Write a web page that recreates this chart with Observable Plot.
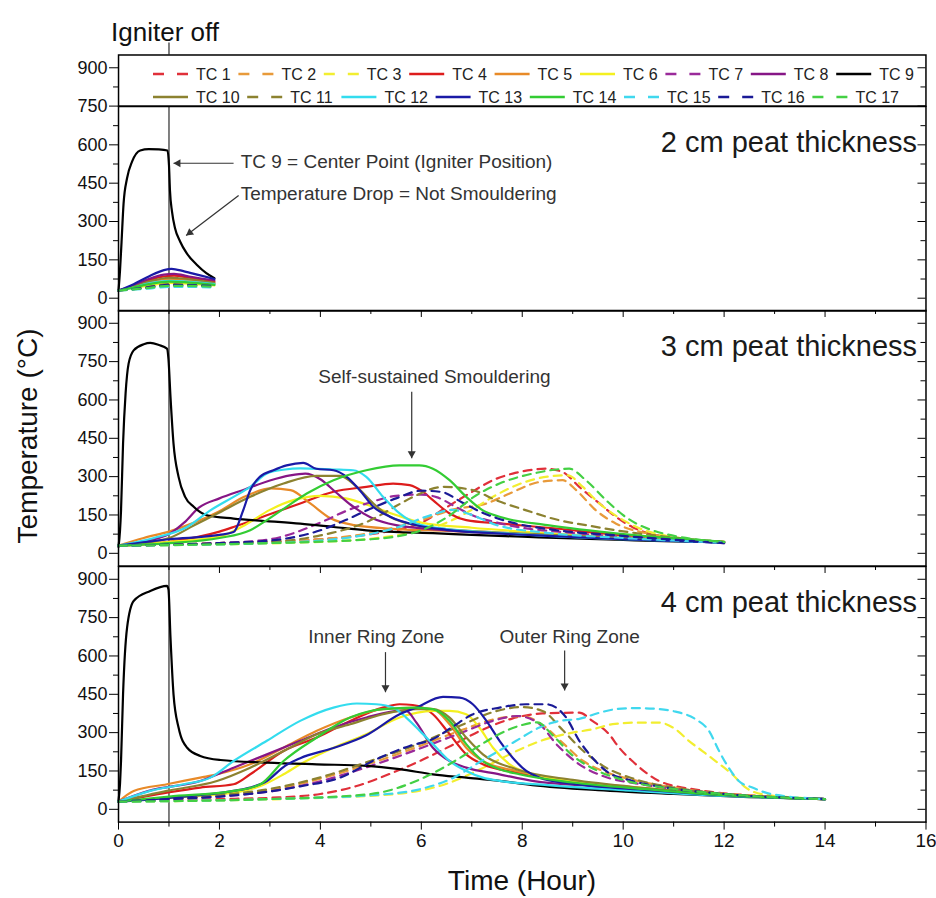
<!DOCTYPE html>
<html><head><meta charset="utf-8">
<script src="https://cdn.jsdelivr.net/npm/d3@7"></script>
<script src="https://cdn.jsdelivr.net/npm/@observablehq/plot@0.6"></script>
<style>
body{margin:0;background:#fff;}
#chart{position:relative;width:936px;height:898px;font-family:"Liberation Sans",Arial,sans-serif;}
#chart svg{position:absolute;left:0;overflow:visible;}
</style></head><body><div id="chart"></div>
<script>
// ---------- data: [hour, °C] ----------
// 2 cm peat thickness
const tc1_2cm=[[0,30],[0.5,40],[1.0,52],[1.4,52],[1.9,46]];
const tc2_2cm=[[0,30],[0.5,42],[1.0,56],[1.4,55],[1.9,48]];
const tc3_2cm=[[0,30],[0.5,38],[1.0,48],[1.4,48],[1.9,44]];
const tc4_2cm=[[0,30],[0.3,48],[0.6,70],[0.9,85],[1.1,88],[1.4,80],[1.9,65]];
const tc5_2cm=[[0,30],[0.3,45],[0.6,62],[1.0,75],[1.3,72],[1.9,58]];
const tc6_2cm=[[0,30],[0.3,40],[0.6,50],[1.0,60],[1.3,58],[1.9,50]];
const tc7_2cm=[[0,30],[0.5,40],[1.0,50],[1.4,50],[1.9,45]];
const tc8_2cm=[[0,30],[0.3,50],[0.6,75],[0.9,92],[1.1,95],[1.4,85],[1.9,70]];
const tc9_2cm=[[0,30],[0.03,110],[0.06,220],[0.1,370],[0.17,470],[0.27,535],[0.43,578],[0.6,583],[0.8,582],[0.97,578],[1.0,520],[1.02,420],[1.06,339],[1.12,274],[1.22,222],[1.35,176],[1.55,131],[1.74,98],[1.9,78]];
const tc10_2cm=[[0,30],[0.3,45],[0.6,65],[1.0,80],[1.2,78],[1.9,60]];
const tc11_2cm=[[0,30],[0.5,42],[1.0,55],[1.4,53],[1.9,48]];
const tc12_2cm=[[0,30],[0.3,42],[0.6,58],[1.0,68],[1.3,66],[1.9,55]];
const tc13_2cm=[[0,30],[0.3,55],[0.6,85],[0.9,110],[1.05,115],[1.3,105],[1.6,90],[1.9,75]];
const tc14_2cm=[[0,30],[0.3,42],[0.6,55],[1.0,65],[1.3,63],[1.9,52]];
const tc15_2cm=[[0,30],[0.5,36],[1.0,44],[1.4,44],[1.9,42]];
const tc16_2cm=[[0,30],[0.5,40],[1.0,52],[1.4,51],[1.9,47]];
const tc17_2cm=[[0,30],[0.5,38],[1.0,48],[1.4,48],[1.9,44]];
// 3 cm peat thickness
const tc1_3cm=[[0,30],[2,40],[4,55],[5,75],[6,120],[6.5,180],[7,240],[7.42,286],[7.81,312],[8.21,327],[8.47,331],[8.8,318],[9.13,260],[9.53,195],[9.86,142],[10.18,103],[10.84,64],[12,44]];
const tc2_3cm=[[0,30],[2,40],[4,55],[5,80],[6,130],[6.6,170],[7.29,195],[7.75,234],[8.34,279],[8.8,286],[9.07,247],[9.46,168],[9.86,116],[10.51,77],[12,45]];
const tc3_3cm=[[0,30],[4,45],[5.5,70],[6.5,120],[7,170],[7.5,230],[8,275],[8.5,300],[8.9,305],[9.2,260],[9.5,200],[10,130],[10.5,85],[12,42]];
const tc4_3cm=[[0,30],[1,45],[2,85],[2.28,103],[2.94,149],[3.6,195],[4.26,241],[4.91,260],[5.44,273],[5.77,267],[6.03,241],[6.23,208],[6.56,156],[6.89,130],[7.55,117],[8.5,100],[10,70],[12,44]];
const tc5_3cm=[[0,30],[0.5,60],[1,85],[1.5,120],[2,165],[2.49,221],[3.02,254],[3.41,247],[3.8,195],[4.2,137],[4.67,110],[5.5,95],[6.5,88],[8,75],[10,58],[12,45]];
const tc6_3cm=[[0,30],[1,45],[2,65],[2.5,110],[3,170],[3.5,210],[4,225],[4.5,215],[5,185],[5.5,150],[6,120],[7,100],[8,85],[10,62],[12,42]];
const tc7_3cm=[[0,30],[2,40],[3,55],[4,120],[4.5,165],[5,200],[5.5,225],[6,230],[6.3,220],[6.7,180],[7,150],[7.5,120],[8,100],[9,80],[12,40]];
const tc8_3cm=[[0,30],[0.6,50],[1,75],[1.3,120],[1.6,180],[2,215],[2.5,250],[3,285],[3.4,305],[3.7,312],[4,290],[4.3,240],[4.6,190],[5,140],[5.5,110],[6.5,90],[8,75],[10,58],[12,42]];
const tc9_3cm=[[0,25],[0.03,90],[0.05,168],[0.09,429],[0.14,625],[0.2,742],[0.3,794],[0.5,818],[0.63,823],[0.8,815],[0.96,801],[0.99,760],[1.03,612],[1.09,429],[1.19,299],[1.32,221],[1.49,182],[1.75,149],[2.28,136],[2.94,126],[3.6,116],[4.26,103],[4.91,90],[5.57,83],[6.23,79],[7,72],[8,65],[9,58],[10,52],[11,47],[12,44]];
const tc10_3cm=[[0,30],[1,60],[1.5,110],[1.95,155],[2.61,221],[3.27,273],[3.92,303],[4.39,303],[4.72,260],[5.05,195],[5.38,143],[5.9,110],[6.5,95],[7.5,82],[9,68],[10.5,55],[12,44]];
const tc11_3cm=[[0,30],[3,45],[4,70],[5,130],[5.5,185],[5.83,220],[6.43,260],[7.02,247],[7.48,208],[8.08,168],[8.74,129],[9.27,110],[9.86,90],[11,62],[12,44]];
const tc12_3cm=[[0,30],[0.7,60],[1.36,103],[1.82,168],[2.28,221],[2.61,260],[2.94,312],[3.3,328],[3.6,332],[4.26,328],[4.65,325],[4.91,299],[5.24,221],[5.57,156],[5.9,117],[6.5,95],[7.5,80],[8.5,68],[10,55],[12,42]];
const tc13_3cm=[[0,30],[1,55],[2,72],[2.28,83],[2.47,168],[2.61,247],[2.8,299],[3.07,325],[3.33,344],[3.66,354],[3.92,331],[4.26,325],[4.52,299],[4.78,247],[5.05,182],[5.38,143],[5.9,110],[6.5,92],[7.5,78],[8.5,68],[10,55],[12,42]];
const tc14_3cm=[[0,30],[1,40],[2,60],[2.61,90],[2.94,130],[3.33,182],[3.73,234],[4.26,286],[4.91,325],[5.57,344],[5.96,344],[6.23,331],[6.56,286],[6.89,221],[7.22,168],[7.55,143],[8.5,110],[10,75],[12,45]];
const tc15_3cm=[[0,30],[3,40],[4.5,60],[5.5,100],[6.2,150],[6.6,170],[7,150],[7.5,110],[8.5,80],[10,60],[12,42]];
const tc16_3cm=[[0,30],[2,40],[3,50],[4,90],[4.5,130],[5,175],[5.5,215],[6,245],[6.4,240],[6.8,200],[7.2,160],[7.8,120],[8.5,95],[10,68],[12,40]];
const tc17_3cm=[[0,30],[3,40],[5,55],[6,90],[6.5,140],[7.09,227],[7.55,273],[8.21,312],[8.93,331],[9.26,286],[9.66,208],[10.05,142],[10.58,90],[12,44]];
// 4 cm peat thickness
const tc1_4cm=[[0,30],[2,40],[3,45],[4,60],[4.7,90],[5.44,144],[5.97,189],[6.6,250],[7.2,310],[7.8,355],[8.4,375],[9.13,378],[9.39,346],[9.72,294],[9.92,241],[10.18,189],[10.45,144],[10.71,111],[11.5,75],[12.5,55],[14,40]];
const tc2_4cm=[[0,30],[1,40],[2,55],[3,75],[4,120],[5,180],[6,250],[6.8,310],[7.5,355],[8,365],[8.4,330],[8.8,260],[9.2,190],[9.6,150],[10.2,115],[11,85],[12,60],[14,40]];
const tc3_4cm=[[0,30],[4,45],[5.5,60],[6.5,100],[7.2,160],[7.8,220],[8.4,270],[9,300],[9.39,313],[9.79,333],[10.25,339],[10.71,339],[11.04,313],[11.3,268],[11.57,228],[11.83,189],[12.16,137],[12.43,85],[12.76,59],[14,40]];
const tc4_4cm=[[0,30],[0.96,65],[1.62,85],[2.28,98],[2.61,137],[3.27,228],[3.93,281],[4.59,346],[5.24,398],[5.57,411],[5.83,408],[6.23,372],[6.56,294],[6.89,215],[7.22,176],[7.88,144],[9,110],[10.5,80],[12,55],[14,40]];
const tc5_4cm=[[0,30],[0.3,72],[0.96,98],[1.62,124],[1.95,137],[2.61,176],[3.27,241],[3.93,307],[4.59,359],[5.24,392],[5.9,398],[6.23,392],[6.56,333],[6.89,241],[7.22,189],[7.88,150],[9,110],[10.5,80],[12,55],[14,40]];
const tc6_4cm=[[0,30],[1,45],[2.28,65],[2.8,90],[3.27,137],[3.6,176],[4.26,241],[4.91,294],[5.57,359],[6.23,385],[6.56,385],[6.89,372],[7.15,320],[7.42,241],[7.75,176],[8.2,137],[8.87,111],[10,90],[12,60],[14,40]];
const tc7_4cm=[[0,30],[1,40],[2,50],[3,70],[4,110],[5,170],[6,240],[6.8,300],[7.4,345],[7.9,365],[8.3,340],[8.7,250],[9.1,180],[9.6,130],[10.3,100],[11,80],[12,60],[14,40]];
const tc8_4cm=[[0,30],[0.6,72],[1.62,111],[2.28,163],[2.94,215],[3.6,268],[4.26,320],[4.91,359],[5.57,385],[5.7,385],[5.9,340],[6.23,241],[6.56,189],[6.89,163],[7.55,137],[8.2,111],[9.5,90],[11,70],[12.5,52],[14,40]];
const tc9_4cm=[[0,33],[0.03,100],[0.05,189],[0.09,450],[0.17,711],[0.3,815],[0.63,854],[0.96,874],[0.99,860],[1.03,672],[1.09,450],[1.19,320],[1.36,241],[1.62,209],[2.02,193],[2.94,183],[3.93,176],[4.91,170],[5.57,157],[6.23,137],[6.89,124],[7.55,111],[8.2,95],[9.5,75],[11,60],[12.5,48],[14,40]];
const tc10_4cm=[[0,30],[0.96,72],[1.95,111],[2.61,163],[3.27,228],[3.93,294],[4.59,333],[5.24,372],[5.9,392],[6.23,392],[6.56,359],[6.89,281],[7.22,215],[7.88,157],[9,115],[10.5,82],[12,57],[14,40]];
const tc11_4cm=[[0,30],[1,40],[2,55],[3,80],[4,125],[5,190],[6,260],[6.8,330],[7.5,385],[8,400],[8.4,385],[8.8,310],[9.2,230],[9.6,170],[10.2,120],[11,85],[12,60],[14,40]];
const tc12_4cm=[[0,30],[0.63,72],[1.29,98],[1.82,124],[2.28,189],[2.94,268],[3.6,346],[4.26,398],[4.72,414],[5.11,411],[5.44,398],[5.7,359],[5.97,307],[6.23,255],[6.56,189],[6.89,150],[7.22,124],[7.55,111],[8.5,95],[10,75],[12,52],[14,40]];
const tc13_4cm=[[0,30],[1,45],[2.28,72],[2.61,85],[2.94,111],[3.3,170],[3.6,200],[4.26,240],[4.91,290],[5.57,372],[5.9,398],[6.43,440],[6.76,437],[7.02,411],[7.29,346],[7.55,268],[7.81,202],[8.08,150],[8.34,124],[9,100],[10.5,75],[12,55],[14,40]];
const tc14_4cm=[[0,30],[1,50],[2.28,72],[2.81,98],[3.27,189],[3.93,281],[4.59,359],[5.24,392],[5.9,398],[6.23,392],[6.56,346],[6.89,255],[7.22,189],[7.55,157],[7.94,137],[9,105],[10.5,78],[12,55],[14,40]];
const tc15_4cm=[[0,30],[3,40],[5,55],[6,80],[6.6,120],[7.2,190],[7.88,268],[8.34,320],[8.74,346],[9.13,354],[9.53,378],[9.86,392],[10.25,396],[10.71,392],[11.04,382],[11.44,352],[11.7,307],[11.9,228],[12.09,163],[12.29,111],[12.56,85],[12.95,59],[14,40]];
const tc16_4cm=[[0,30],[1,40],[2,50],[3,70],[3.6,90],[4.39,124],[5.11,196],[5.77,248],[6.23,275],[6.6,320],[7,370],[7.55,398],[8.08,411],[8.47,411],[8.87,359],[9.13,268],[9.39,202],[9.66,150],[10.18,111],[10.84,85],[12,60],[14,40]];
const tc17_4cm=[[0,30],[3,40],[5,60],[5.9,111],[6.5,170],[7,230],[7.5,290],[8,330],[8.3,340],[8.6,290],[9,210],[9.5,150],[10,115],[11,80],[12,60],[14,40]];

const tcNames=["TC 1","TC 2","TC 3","TC 4","TC 5","TC 6","TC 7","TC 8","TC 9","TC 10","TC 11","TC 12","TC 13","TC 14","TC 15","TC 16","TC 17"];
const yTicksMajor=[0,150,300,450,600,750,900];
const yTicksMinor=[75,225,375,525,675,825];
const xTicksMajor=[0,2,4,6,8,10,12,14,16];
const xTicksMinor=[1,3,5,7,9,11,13,15];
const panelTitles=["2 cm peat thickness","3 cm peat thickness","4 cm peat thickness"];
const notes2cm=[{text:"TC 9 = Center Point (Igniter Position)",x:2.42,y:532},{text:"Temperature Drop = Not Smouldering",x:2.42,y:408}];
const arrows2cm=[{x1:2.28,y1:528,x2:1.09,y2:528},{x1:2.38,y1:402,x2:1.34,y2:245}];
const notes3cm=[{text:"Self-sustained Smouldering",x:3.96,y:690}];
const arrows3cm=[{x1:5.81,y1:632,x2:5.81,y2:372}];
const notes4cm=[{text:"Inner Ring Zone",x:3.76,y:676},{text:"Outer Ring Zone",x:7.55,y:676}];
const arrows4cm=[{x1:5.29,y1:615,x2:5.29,y2:458},{x1:8.84,y1:621,x2:8.84,y2:465}];

// ---------- styles ----------
const tcColors=["#e0303a","#e89a3a","#f2ee30","#dd1c1c","#e88a28","#f4f020","#9a2a9a","#861686","#000000","#8c8230","#8c8230","#33dcee","#1a1aa6","#33cc33","#40d8ee","#1a1a96","#44d044"];
const tcDashed=[true,true,true,false,false,false,true,false,false,false,true,false,false,false,true,true,true];

const series2cm=[tc1_2cm,tc2_2cm,tc3_2cm,tc4_2cm,tc5_2cm,tc6_2cm,tc7_2cm,tc8_2cm,tc9_2cm,tc10_2cm,tc11_2cm,tc12_2cm,tc13_2cm,tc14_2cm,tc15_2cm,tc16_2cm,tc17_2cm];
const series3cm=[tc1_3cm,tc2_3cm,tc3_3cm,tc4_3cm,tc5_3cm,tc6_3cm,tc7_3cm,tc8_3cm,tc9_3cm,tc10_3cm,tc11_3cm,tc12_3cm,tc13_3cm,tc14_3cm,tc15_3cm,tc16_3cm,tc17_3cm];
const series4cm=[tc1_4cm,tc2_4cm,tc3_4cm,tc4_4cm,tc5_4cm,tc6_4cm,tc7_4cm,tc8_4cm,tc9_4cm,tc10_4cm,tc11_4cm,tc12_4cm,tc13_4cm,tc14_4cm,tc15_4cm,tc16_4cm,tc17_4cm];

const W=936, ML=118, MR=10.5;
const PXH=(W-ML-MR)/16;   // px per hour
const PXU=0.2556;         // px per °C
const FONT='"Liberation Sans", Arial, sans-serif';
const chart=document.getElementById("chart");

function buildPanel({series=null, domain, title=null, notes=[], arrows=[], top, marginTop=0, marginBottom=0, xAxis=false, topTicks=false, legend=false}){
  const frameH=(domain[1]-domain[0])*PXU;
  const majors=yTicksMajor.filter(v=>v>=domain[0]&&v<domain[1]);
  const minors=yTicksMinor.filter(v=>v>=domain[0]&&v<domain[1]);
  const marks=[];
  if(legend){
    marks.push(Plot.ruleX([1],{y1:domain[1],y2:domain[1]+12/PXU,stroke:"#000",strokeWidth:1}));
    marks.push(Plot.text(["Igniter off"],{x:1,text:d=>d,frameAnchor:"top",dy:-32,dx:-4,fontSize:26,fill:"#111"}));
  } else {
    marks.push(Plot.ruleX([1],{stroke:"#000",strokeWidth:1}));
  }
  if(series){
    series.forEach((s,i)=>{
      marks.push(Plot.line(s,{x:d=>d[0],y:d=>d[1],stroke:tcColors[i],strokeWidth:2.2,
        strokeDasharray:tcDashed[i]?"8,6":undefined,curve:"monotone-x"}));
    });
  }
  // left axis (outward), right ticks (inward)
  marks.push(Plot.axisY(majors,{anchor:"left",tickSize:9,tickPadding:2,fontSize:18,label:null,fill:"#111"}));
  marks.push(Plot.axisY(minors,{anchor:"left",tickSize:5,tickFormat:()=>"",label:null}));
  marks.push(Plot.ruleY(majors,{x1:16-8/PXH,x2:16,stroke:"#000"}));
  marks.push(Plot.ruleY(minors,{x1:16-5/PXH,x2:16,stroke:"#000"}));
  if(topTicks){
    marks.push(Plot.ruleX(d3.range(1,16),{y1:domain[1],y2:d=>domain[1]-(d%2===0?7:4)/PXU,stroke:"#000"}));
  }
  if(xAxis){
    marks.push(Plot.axisX(xTicksMajor,{anchor:"bottom",tickSize:8,tickPadding:3,fontSize:19,label:null,fill:"#111"}));
    marks.push(Plot.axisX(xTicksMinor,{anchor:"bottom",tickSize:5,tickFormat:()=>"",label:null}));
  }
  if(title){
    marks.push(Plot.text([title],{text:d=>d,frameAnchor:"top-right",dx:-9,dy:25,textAnchor:"end",fontSize:29,fill:"#1a1a1a"}));
  }
  if(notes.length){
    marks.push(Plot.text(notes,{x:"x",y:"y",text:"text",textAnchor:"start",fontSize:19,fill:"#333"}));
  }
  arrows.forEach(a=>{
    marks.push(Plot.link([a],{x1:"x1",y1:"y1",x2:"x2",y2:"y2",stroke:"#333",strokeWidth:1.2}));
    const vx=(a.x2-a.x1)*PXH, vy=-(a.y2-a.y1)*PXU, len=Math.hypot(vx,vy);
    const ux=vx/len, uy=vy/len, back=4.6;
    marks.push(Plot.dot([a],{x:"x2",y:"y2",symbol:"triangle",r:3,rotate:Math.atan2(vx,-vy)*180/Math.PI,
      fill:"#333",stroke:"none",dx:-ux*back,dy:-uy*back}));
  });
  marks.push(Plot.frame({stroke:"#000",strokeWidth:1.5}));
  const svg=Plot.plot({
    width:W, height:marginTop+frameH+marginBottom,
    marginLeft:ML, marginRight:MR, marginTop, marginBottom,
    x:{domain:[0,16],axis:null},
    y:{domain,axis:null},
    style:{fontFamily:FONT,fontSize:"18px",overflow:"visible",background:"transparent",color:"#000"},
    marks
  });
  svg.style.position="absolute";
  svg.style.top=(top-marginTop)+"px";
  svg.style.left="0px";
  chart.appendChild(svg);
  return frameH;
}

let y0=54.5;
const hL=buildPanel({domain:[750,950],top:y0,marginTop:y0,legend:true});
let y1=y0+hL;
const h1=buildPanel({series:series2cm,domain:[-50,750],title:panelTitles[0],notes:notes2cm,arrows:arrows2cm,top:y1});
let y2=y1+h1;
const h2=buildPanel({series:series3cm,domain:[-50,950],title:panelTitles[1],notes:notes3cm,arrows:arrows3cm,top:y2,topTicks:true});
let y3=y2+h2;
buildPanel({series:series4cm,domain:[-50,950],title:panelTitles[2],notes:notes4cm,arrows:arrows4cm,top:y3,topTicks:true,xAxis:true,marginBottom:40});

// ---------- overlay: legend entries and axis titles ----------
const ov=d3.select(chart).append("svg").attr("width",W).attr("height",898)
  .style("top","0px").style("pointer-events","none").style("font-family",FONT);
const rows=[{names:tcNames.slice(0,9),start:0,y:74,pitch:85.4},{names:tcNames.slice(9),start:9,y:97,pitch:94.2}];
rows.forEach(r=>{
  r.names.forEach((n,j)=>{
    const i=r.start+j, x=153+j*r.pitch;
    ov.append("line").attr("x1",x).attr("x2",x+35).attr("y1",r.y).attr("y2",r.y)
      .attr("stroke",tcColors[i]).attr("stroke-width",2.4)
      .attr("stroke-dasharray",tcDashed[i]?"11,13":null);
    ov.append("text").attr("x",x+43).attr("y",r.y).attr("dy","0.36em")
      .attr("font-size",16).attr("fill","#222").text(n);
  });
});
ov.append("text").attr("transform","translate(27,436) rotate(-90)").attr("text-anchor","middle")
  .attr("dy","0.36em").attr("font-size",28).attr("fill","#111").text("Temperature (°C)");
ov.append("text").attr("x",522).attr("y",880).attr("text-anchor","middle")
  .attr("dy","0.36em").attr("font-size",28).attr("fill","#111").text("Time (Hour)");
</script></body></html>
